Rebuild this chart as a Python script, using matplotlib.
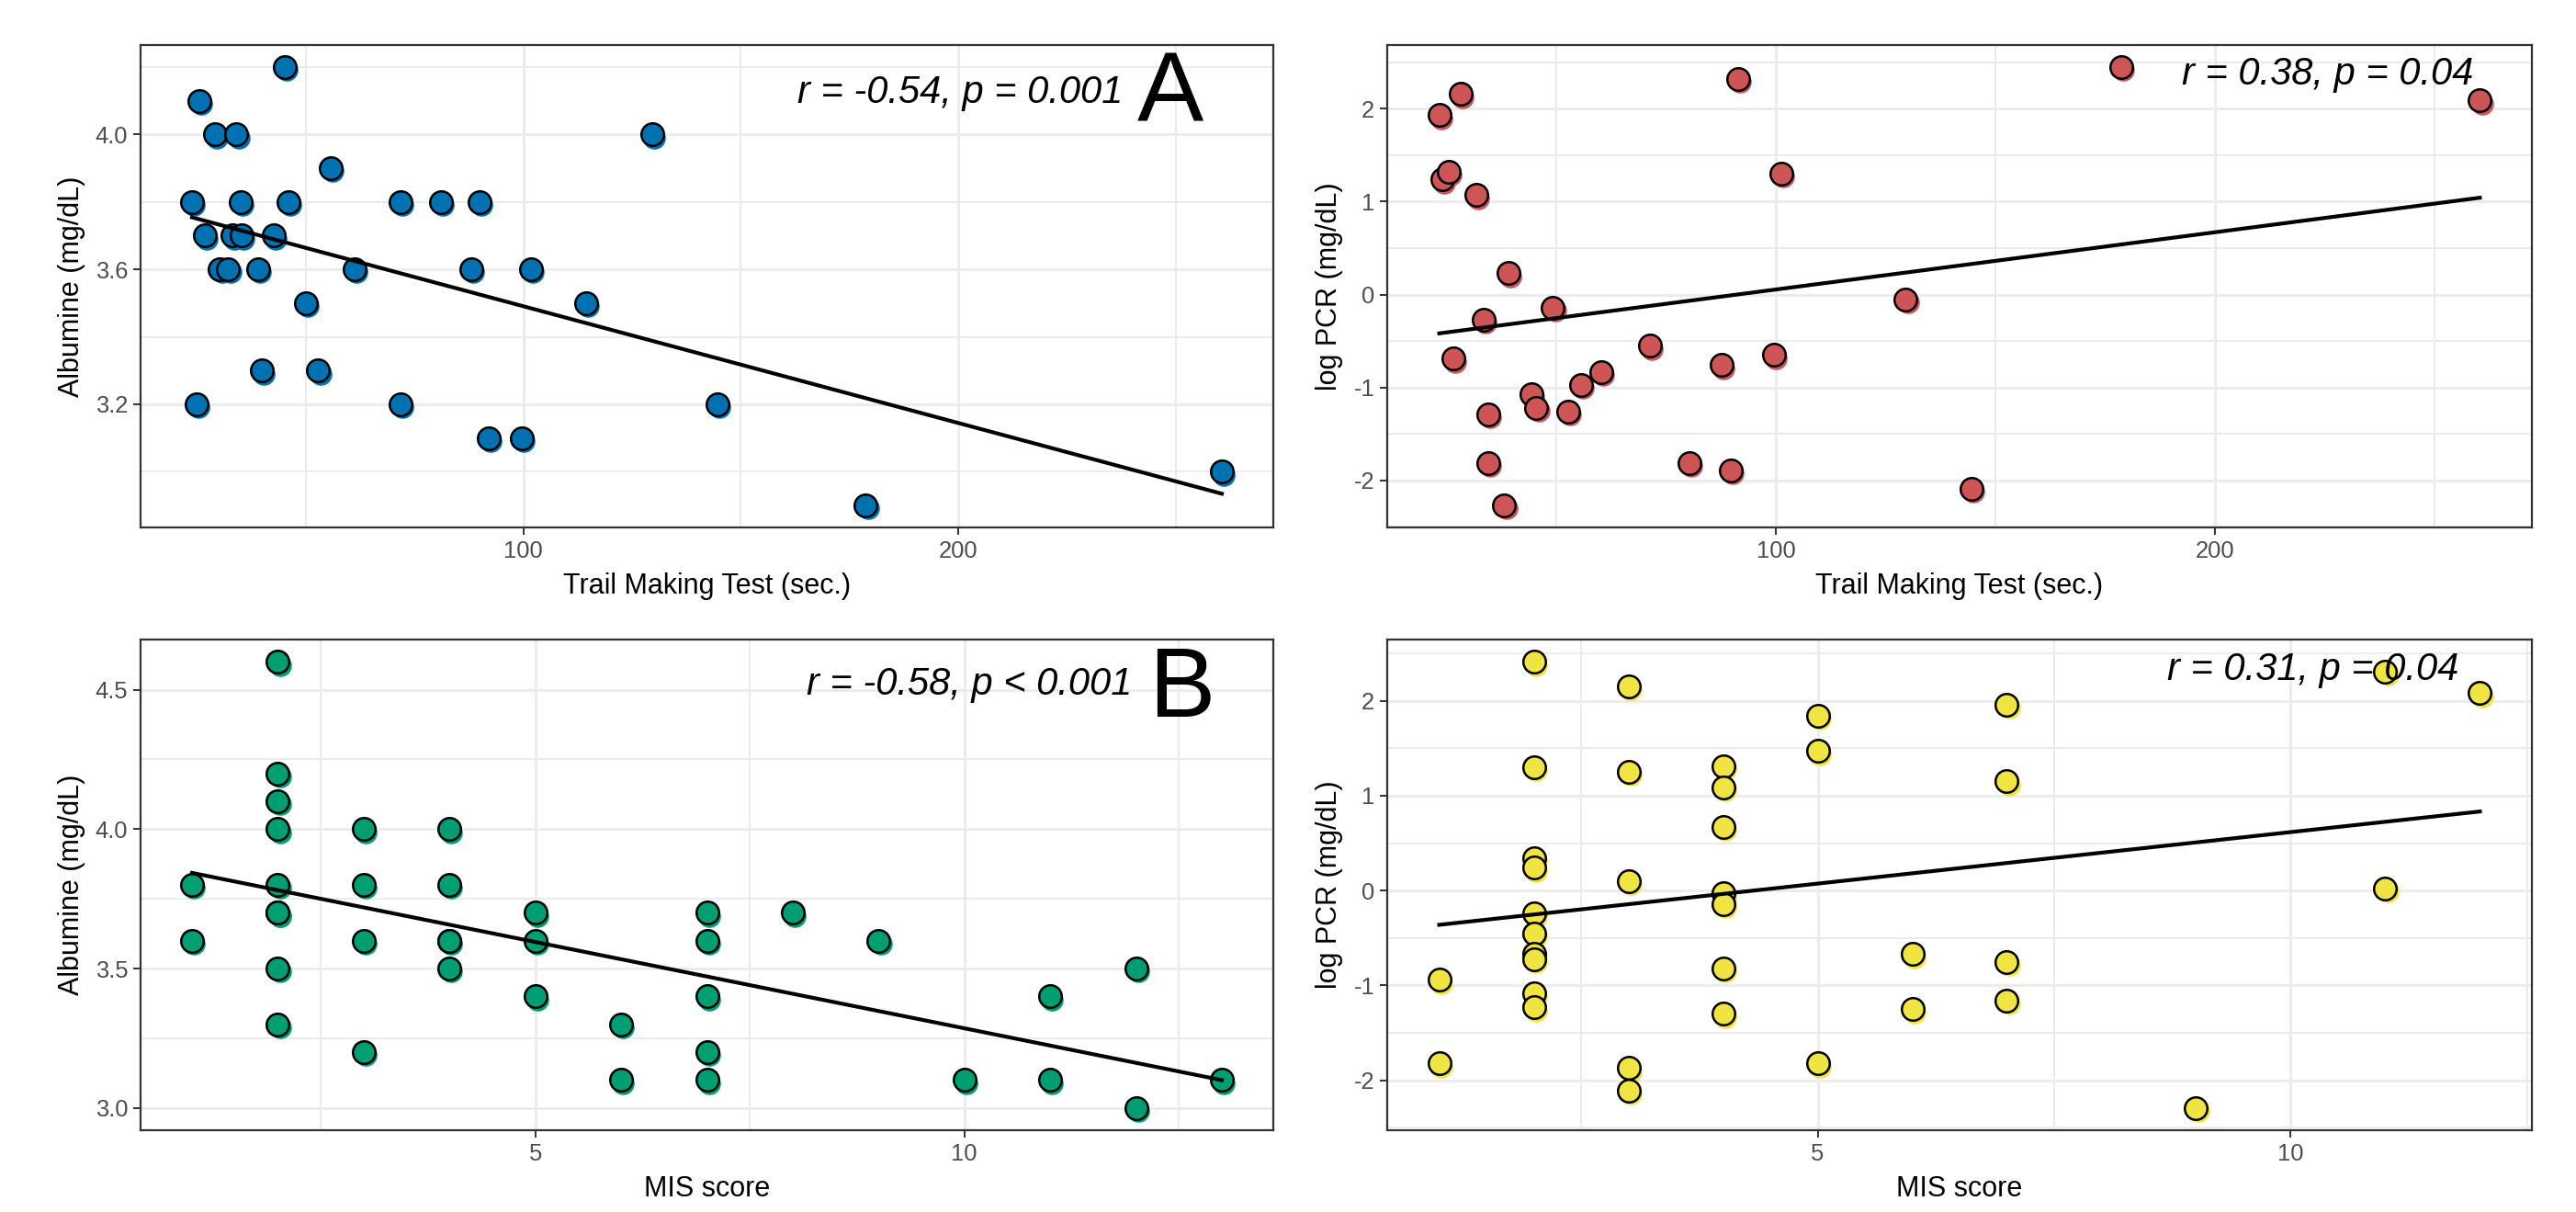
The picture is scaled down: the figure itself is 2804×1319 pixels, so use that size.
import numpy as np
import matplotlib.pyplot as plt
from matplotlib.ticker import FixedLocator, FormatStrFormatter
from matplotlib.transforms import offset_copy

plt.rcParams["font.family"] = ["Liberation Sans", "DejaVu Sans"]
plt.rcParams["axes.unicode_minus"] = False

# ---- data ----
# A: Trail Making Test vs albumine
tmt_a = [45.2, 25.6, 29.2, 34.1, 129.6, 55.7, 23.9, 35.0, 46.1, 71.8, 81.0, 90.0,
         26.9, 33.1, 35.2, 42.7, 30.3, 32.2, 39.0, 61.2, 88.1, 101.7, 50.1, 114.5,
         39.9, 52.9, 25.0, 71.8, 144.6, 92.1, 99.6, 178.7, 260.5]
alb_a = [4.2, 4.1, 4.0, 4.0, 4.0, 3.9, 3.8, 3.8, 3.8, 3.8, 3.8, 3.8,
         3.7, 3.7, 3.7, 3.7, 3.6, 3.6, 3.6, 3.6, 3.6, 3.6, 3.5, 3.5,
         3.3, 3.3, 3.2, 3.2, 3.2, 3.1, 3.1, 2.9, 3.0]

# top right: Trail Making Test vs log PCR
tmt_c = [23.4, 28.3, 24.0, 25.5, 31.8, 91.4, 101.3, 260.3, 178.7, 39.1, 49.3, 33.5,
         26.6, 71.3, 87.6, 99.6, 129.6, 60.3, 55.6, 44.4, 45.5, 52.8, 34.5, 34.5,
         80.3, 89.7, 144.6, 38.2]
pcr_c = [1.93, 2.16, 1.24, 1.32, 1.07, 2.32, 1.30, 2.09, 2.45, 0.23, -0.14, -0.27,
         -0.69, -0.55, -0.76, -0.65, -0.05, -0.83, -0.97, -1.07, -1.22, -1.26, -1.29, -1.81,
         -1.81, -1.89, -2.09, -2.27]

# B: MIS score vs albumine
mis_b = [1, 1,
         2, 2, 2, 2, 2, 2, 2, 2, 2,
         3, 3, 3, 3,
         4, 4, 4, 4, 4,
         5, 5, 5,
         6, 6,
         7, 7, 7, 7, 7,
         8, 9, 10, 11, 11, 12, 12, 13]
alb_b = [3.8, 3.6,
         4.6, 4.2, 4.1, 4.0, 3.8, 3.7, 3.7, 3.5, 3.3,
         4.0, 3.8, 3.6, 3.2,
         4.0, 3.8, 3.6, 3.6, 3.5,
         3.7, 3.6, 3.4,
         3.3, 3.1,
         3.7, 3.6, 3.4, 3.2, 3.1,
         3.7, 3.6, 3.1, 3.4, 3.1, 3.5, 3.0, 3.1]

# bottom right: MIS score vs log PCR
mis_d = [1, 1,
         2, 2, 2, 2, 2, 2, 2, 2, 2, 2,
         3, 3, 3, 3, 3,
         4, 4, 4, 4, 4, 4, 4,
         5, 5, 5,
         6, 6,
         7, 7, 7, 7,
         9, 11, 11, 12]
pcr_d = [-0.94, -1.82,
         2.41, 1.30, 0.34, 0.24, -0.24, -0.45, -0.67, -0.72, -1.08, -1.23,
         2.15, 1.25, 0.10, -1.87, -2.11,
         1.31, 1.09, 0.67, -0.03, -0.14, -0.82, -1.30,
         1.84, 1.47, -1.82,
         -0.67, -1.25,
         1.96, 1.15, -0.75, -1.16,
         -2.29, 2.31, 0.02, 2.08]

# ---- layout (pixel boxes of the panels in the 2804x1319 reference) ----
W, H = 2804, 1319
fig = plt.figure(figsize=(W / 200, H / 200), dpi=200)


def box(l, t, r, b):
    return [l / W, 1 - b / H, (r - l) / W, (b - t) / H]


def panel(rect, x, y, color, xlab, ylab, xmaj, xmin, ymaj, ymin, yfmt,
          stat, stat_pos, letter=None, letter_pos=None):
    ax = fig.add_axes(rect)
    x = np.asarray(x, float)
    y = np.asarray(y, float)

    # little coloured shadow under each point, then the outlined point
    shadow = offset_copy(ax.transData, fig=fig, x=0.8, y=-1.2, units="points")
    ax.scatter(x, y, s=78, color=color, linewidths=0, transform=shadow, zorder=3)
    ax.scatter(x, y, s=78, facecolor=color, edgecolor="black", linewidths=0.9, zorder=4)

    k, c = np.polyfit(x, y, 1)
    xs = np.linspace(x.min(), x.max(), 80)
    ax.plot(xs, k * xs + c, color="black", lw=1.5, zorder=5)

    ax.margins(0.05)
    ax.xaxis.set_major_locator(FixedLocator(xmaj))
    ax.xaxis.set_minor_locator(FixedLocator(xmin))
    ax.yaxis.set_major_locator(FixedLocator(ymaj))
    ax.yaxis.set_minor_locator(FixedLocator(ymin))
    ax.yaxis.set_major_formatter(FormatStrFormatter(yfmt))
    ax.grid(which="major", color="#EBEBEB", lw=1.0, zorder=0)
    ax.grid(which="minor", color="#EBEBEB", lw=0.7, zorder=0)
    ax.set_axisbelow(True)
    ax.tick_params(which="major", length=2.75, width=0.7, color="#333333",
                   labelsize=9.2, labelcolor="#4D4D4D", pad=2.2)
    ax.tick_params(which="minor", length=0)
    for sp in ax.spines.values():
        sp.set_color("#333333")
        sp.set_linewidth(0.8)
    ax.set_xlabel(xlab, fontsize=11, labelpad=4)
    ax.set_ylabel(ylab, fontsize=11, labelpad=4)

    ax.text(stat_pos[0], stat_pos[1], stat, transform=ax.transAxes, ha="right",
            va="baseline", fontsize=15, style="italic", zorder=6)
    if letter:
        ax.text(letter_pos[0], letter_pos[1], letter, transform=ax.transAxes,
                ha="left", va="baseline", fontsize=39, zorder=6)
    return ax


panel(box(153, 49, 1386, 574), tmt_a, alb_a, "#0072B2",
      "Trail Making Test (sec.)", "Albumine (mg/dL)",
      [100, 200], [50, 150, 250], [3.2, 3.6, 4.0], [3.0, 3.4, 3.8, 4.2], "%.1f",
      "r = -0.54, p = 0.001", (0.867, 0.88), "A", (0.880, 0.84))

panel(box(1510, 49, 2756, 574), tmt_c, pcr_c, "#CD5555",
      "Trail Making Test (sec.)", "log PCR (mg/dL)",
      [100, 200], [50, 150, 250], [-2, -1, 0, 1, 2], [-2.5, -1.5, -0.5, 0.5, 1.5, 2.5], "%d",
      "r = 0.38, p = 0.04", (0.949, 0.918))

panel(box(153, 696, 1386, 1230), mis_b, alb_b, "#009E73",
      "MIS score", "Albumine (mg/dL)",
      [5, 10], [2.5, 7.5, 12.5], [3.0, 3.5, 4.0, 4.5], [3.25, 3.75, 4.25], "%.1f",
      "r = -0.58, p < 0.001", (0.875, 0.888), "B", (0.890, 0.843))

panel(box(1510, 696, 2756, 1230), mis_d, pcr_d, "#F0E442",
      "MIS score", "log PCR (mg/dL)",
      [5, 10], [2.5, 7.5, 12.5], [-2, -1, 0, 1, 2], [-2.5, -1.5, -0.5, 0.5, 1.5, 2.5], "%d",
      "r = 0.31, p = 0.04", (0.936, 0.918))

fig.savefig("out.png", dpi=200, facecolor="white")
